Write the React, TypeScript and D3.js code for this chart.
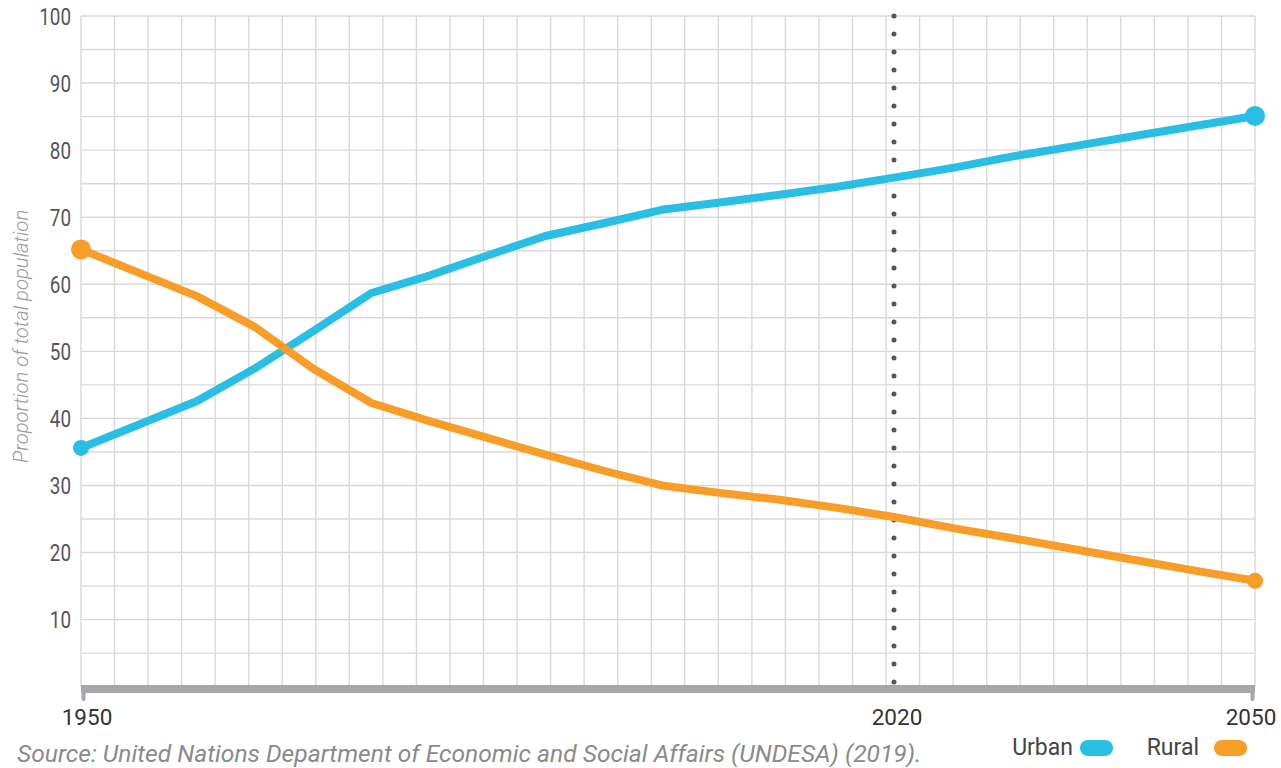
import React from "react";
import * as d3 from "d3";

const years = [1950, 1955, 1960, 1965, 1970, 1975, 1980, 1985, 1990, 1995, 2000, 2005, 2010, 2015, 2020, 2025, 2030, 2035, 2040, 2045, 2050];
const urban = [35.6, 39.1, 42.6, 47.5, 53.0, 58.7, 61.3, 64.3, 67.2, 69.1, 71.1, 72.2, 73.3, 74.5, 75.9, 77.4, 79.1, 80.6, 82.1, 83.6, 85.1];
const rural = [65.2, 61.7, 58.2, 53.6, 47.4, 42.3, 39.6, 37.1, 34.6, 32.2, 30.0, 28.9, 27.9, 26.7, 25.3, 23.6, 22.1, 20.5, 18.9, 17.3, 15.8];
const yTicks = [10, 20, 30, 40, 50, 60, 70, 80, 90, 100];
const xTickLabels = [1950, 2020, 2050];
const markerYear = 2020;
const seriesNames = ["Urban", "Rural"];
const sourceText = "Source: United Nations Department of Economic and Social Affairs (UNDESA) (2019).";
const yTitle = "Proportion of total population";

const BLUE = "#29bee4";
const ORANGE = "#f89d28";
const GRID = "#d9d9d9";

export default function App() {
  const W = 1281, H = 768;
  const x = d3.scaleLinear().domain([1950, 2020, 2050]).range([81, 894, 1255]);
  const y = d3.scaleLinear().domain([0, 100]).range([686.7, 16]);
  const [x0, x1] = [x(1950), x(2050)];
  const cell = y(0) - y(5);
  const nCols = Math.round((x1 - x0) / cell);
  const vGrid = d3.range(nCols + 1).map((i) => x0 + (i * (x1 - x0)) / nCols);
  const hGrid = d3.range(5, 101, 5);

  const line = d3.line<number>().x((_, i) => x(years[i])).y((d) => y(d));
  const last = years.length - 1;

  return (
    <svg width={W} height={H} style={{ position: "absolute", left: 0, top: 0, background: "#fff" }} fontFamily="Roboto, sans-serif">
      {/* grid */}
      <g stroke={GRID} strokeWidth={1.4}>
        {hGrid.map((v) => (
          <line key={"h" + v} x1={x0} x2={x1} y1={y(v)} y2={y(v)} />
        ))}
        {vGrid.map((gx, i) => (
          <line key={"v" + i} x1={gx} x2={gx} y1={y(100)} y2={y(0)} />
        ))}
      </g>

      {/* y labels */}
      <g fill="#555" fontSize={23}>
        {yTicks.map((v) => (
          <text key={v} textAnchor="end" transform={`translate(71,${y(v) + 8.5}) scale(0.82,1)`}>
            {v}
          </text>
        ))}
      </g>

      {/* y title */}
      <text
        transform={`translate(28,${(y(100) + y(0)) / 2 - 15}) rotate(-90)`}
        textAnchor="middle"
        fontStyle="italic"
        fontWeight={300}
        fontSize={20.3}
        fill="#9a9a9a"
      >
        {yTitle}
      </text>

      {/* x axis bar */}
      <line x1={x0} x2={x1} y1={689} y2={689} stroke="#a6a6aa" strokeWidth={8} />
      {[xTickLabels[0], xTickLabels[xTickLabels.length - 1]].map((yr, i) => (
        <line
          key={yr}
          x1={x(yr) + (i === 0 ? 2.5 : -2.5)}
          x2={x(yr) + (i === 0 ? 2.5 : -2.5)}
          y1={690}
          y2={699}
          stroke="#a6a6aa"
          strokeWidth={4}
          strokeLinecap="round"
        />
      ))}

      {/* marker dotted line */}
      <line
        x1={x(markerYear)}
        x2={x(markerYear)}
        y1={y(100)}
        y2={y(0) - 4}
        stroke="#555"
        strokeWidth={5}
        strokeLinecap="round"
        strokeDasharray="0 18"
      />

      {/* x labels */}
      <g fill="#333" fontSize={22.5} textAnchor="middle">
        {xTickLabels.map((yr, i) => (
          <text key={yr} x={x(yr) + (i === 0 ? 6 : i === xTickLabels.length - 1 ? -4 : 3)} y={725}>
            {yr}
          </text>
        ))}
      </g>

      {/* series lines */}
      <path d={line(urban) || ""} fill="none" stroke={BLUE} strokeWidth={8} strokeLinejoin="round" strokeLinecap="round" />
      <path d={line(rural) || ""} fill="none" stroke={ORANGE} strokeWidth={8} strokeLinejoin="round" strokeLinecap="round" />
      <circle cx={x(years[0])} cy={y(urban[0])} r={8} fill={BLUE} />
      <circle cx={x(years[last])} cy={y(urban[last])} r={10} fill={BLUE} />
      <circle cx={x(years[0])} cy={y(rural[0])} r={10} fill={ORANGE} />
      <circle cx={x(years[last])} cy={y(rural[last])} r={8} fill={ORANGE} />

      {/* source */}
      <text x={17} y={762} fontStyle="italic" fontSize={24.6} fill="#8a8a8a">
        {sourceText}
      </text>

      {/* legend */}
      <g fontSize={23} fill="#444">
        <text x={1073} y={755} textAnchor="end">{seriesNames[0]}</text>
        <rect x={1080} y={740} width={33} height={16} rx={8} fill={BLUE} />
        <text x={1199} y={755} textAnchor="end">{seriesNames[1]}</text>
        <rect x={1214} y={740} width={33} height={16} rx={8} fill={ORANGE} />
      </g>
    </svg>
  );
}
